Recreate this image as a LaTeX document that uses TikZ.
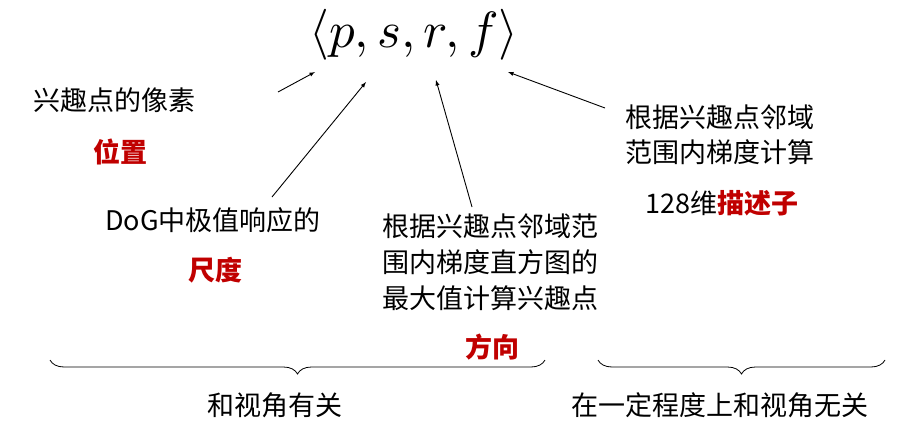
\documentclass[tikz,border=0pt]{standalone}
\usepackage{fontspec}
\newfontfamily\cjk{Noto Sans CJK SC}
\usetikzlibrary{decorations.pathreplacing}
\definecolor{hl}{RGB}{192,0,0}
\tikzset{
  txt/.style={font=\cjk\fontsize{27}{32}\selectfont, inner sep=0pt, align=left},
  red/.style={txt, text=hl, font=\cjk\bfseries\fontsize{27}{32}\selectfont},
  arr/.style={-latex, line width=0.9pt},
  br/.style={decorate, decoration={brace, mirror, amplitude=14pt}, line width=0.8pt}
}
\begin{document}
\begin{tikzpicture}[x=1pt,y=-1pt]
\useasboundingbox (0,0) rectangle (898,426);
\node[inner sep=0pt] (title) at (414,35) {\scalebox{5.1}{$\langle p, s, r, f\rangle$}};
\node[txt] (pix) at (115,100) {兴趣点的像素};
\node[red] (pos) at (120,152) {位置};
\node[txt] (dog) at (213,220) {DoG中极值响应的};
\node[red] (scale) at (215,270) {尺度};
\node[txt, font=\cjk\fontsize{27}{36}\selectfont] (ori) at (490,262) {根据兴趣点邻域范\\围内梯度直方图的\\最大值计算兴趣点};
\node[red] (dir) at (492,347) {方向};
\node[txt, font=\cjk\fontsize{27}{35}\selectfont] (desc) at (720,135) {根据兴趣点邻域\\范围内梯度计算};
\node[txt] (d128) at (722,203) {128维\textcolor{hl}{\bfseries 描述子}};
\coordinate (a1s) at (278,92); \coordinate (a1e) at (315,72);
\coordinate (a2s) at (272,197); \coordinate (a2e) at (366,82);
\coordinate (a3s) at (472,207); \coordinate (a3e) at (436,80);
\coordinate (a4s) at (605,108); \coordinate (a4e) at (508,72);
\draw[arr] (a1s) -- (a1e);
\draw[arr] (a2s) -- (a2e);
\draw[arr] (a3s) -- (a3e);
\draw[arr] (a4s) -- (a4e);
\coordinate (b1l) at (50,360); \coordinate (b1r) at (545,360);
\coordinate (b2l) at (598,360); \coordinate (b2r) at (885,360);
\draw[br] (b1l) -- (b1r);
\draw[br] (b2l) -- (b2r);
\node[txt] (rel) at (275,405) {和视角有关};
\node[txt] (irr) at (720,405) {在一定程度上和视角无关};
\end{tikzpicture}
\end{document}
